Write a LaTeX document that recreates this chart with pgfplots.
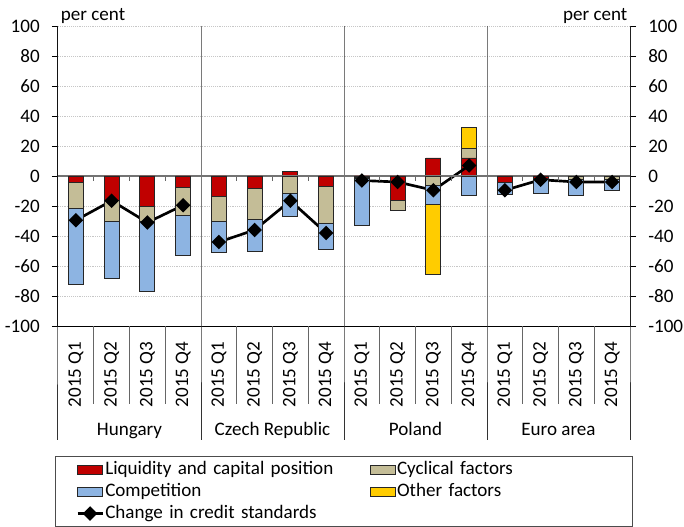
\documentclass[border=0pt]{standalone}
\usepackage{fontspec}
\setmainfont{Carlito}
\usepackage{pgfplots}
\pgfplotsset{compat=1.18}
\definecolor{cred}{HTML}{C00000}
\definecolor{ctan}{HTML}{C4BD97}
\definecolor{cblue}{HTML}{8DB4E2}
\definecolor{cyel}{HTML}{FFCC00}
\pgfplotsset{
 barleg/.style={legend image code/.code={\draw[##1] (0pt,-3.4pt) rectangle (18.75pt,3.4pt);}},
 lineleg/.style={legend image code/.code={\draw[##1,mark=none] (0pt,0pt) -- (18.75pt,0pt); \draw[##1,only marks] plot coordinates {(9.375pt,0pt)};}},
 common/.style={width=429pt,height=225pt,scale only axis,
   xmin=-0.5,xmax=15.5,ymin=-100,ymax=100,
   ybar stacked, bar width=11.25pt,
   ytick={-100,-80,-60,-40,-20,0,20,40,60,80,100},
   tick align=outside, major tick length=4.5pt,
   /pgf/number format/assume math mode=true,
   tick style={black, line width=0.6pt},
   axis line style={black, line width=0.75pt},
   clip=false},
 bars/.style={draw=black!85, line width=0.6pt, barleg},
}
\begin{document}
\begin{tikzpicture}[font=\fontsize{14.3pt}{17pt}\selectfont]
\useasboundingbox (-43.5pt,-150.75pt) rectangle (469.5pt,244.5pt);
% positive parts, grid, right axis
\begin{axis}[common, axis y line*=right, axis x line=none, xtick=\empty,
  ymajorgrids, major grid style={black!22, densely dotted, line width=0.7pt},
  yticklabel style={anchor=west, inner sep=0pt}, yticklabel shift=9pt]
\addplot[bars, fill=cred] coordinates {(6,3) (10,12) (11,12)};
\addplot[bars, fill=ctan] coordinates {(6,0) (10,0) (11,6.5)};
\addplot[bars, fill=cyel] coordinates {(6,0) (10,0) (11,14)};
\end{axis}
% negative parts, line, left axis, categories
\begin{axis}[common, axis y line*=left, axis x line*=bottom,
  xtick={0,...,15},
  xticklabels={2015 Q1,2015 Q2,2015 Q3,2015 Q4,2015 Q1,2015 Q2,2015 Q3,2015 Q4,2015 Q1,2015 Q2,2015 Q3,2015 Q4,2015 Q1,2015 Q2,2015 Q3,2015 Q4},
  x tick style={draw=none},
  xticklabel style={rotate=90, anchor=east, inner sep=0pt}, xticklabel shift=7pt,
  yticklabel style={anchor=east, inner sep=0pt}, yticklabel shift=9pt,
  unbounded coords=jump,
  legend columns=2, legend cell align=left,
  legend style={at={(0.5,0)}, anchor=north, yshift=-97.5pt, draw=black!70, line width=0.75pt,
    inner xsep=15.75pt, inner ysep=1.5pt,
    /tikz/every even column/.append style={column sep=24.5pt},
    nodes={text width=173pt, align=left, text height=10.5pt, text depth=3pt, inner xsep=1pt, inner ysep=1.5pt},
    /tikz/column 4/.style={nodes={text width=160pt}}}]
\addplot[bars, fill=cred] coordinates {(0,-4)(1,-16)(2,-20.5)(3,-7.5)(4,-13.5)(5,-8.5)(6,0)(7,-7)(8,-1)(9,-16)(10,0)(11,0)(12,-4.5)(13,-1.5)(14,0)(15,0)};
\addlegendentry{Liquidity and capital position}
\addplot[bars, fill=ctan] coordinates {(0,-17.5)(1,-14)(2,-10)(3,-18.5)(4,-16.5)(5,-20.5)(6,-11.5)(7,-24.5)(8,-0.5)(9,-7)(10,-6.5)(11,0)(12,0)(13,-0.5)(14,-2.5)(15,-2.5)};
\addlegendentry{Cyclical factors}
\addplot[bars, fill=cblue] coordinates {(0,-50.5)(1,-38)(2,-46.5)(3,-27)(4,-21)(5,-21)(6,-15.5)(7,-17.5)(8,-31.5)(9,0)(10,-12.5)(11,-13)(12,-7.5)(13,-9.5)(14,-10.5)(15,-7.3)};
\addlegendentry{Competition}
\addplot[bars, fill=cyel] coordinates {(0,0)(1,0)(2,0)(3,0)(4,0)(5,0)(6,0)(7,0)(8,0)(9,0)(10,-46.5)(11,0)(12,0)(13,0)(14,0)(15,0)};
\addlegendentry{Other factors}
\draw[black!55, line width=1.1pt] (axis cs:-0.5,0) -- (axis cs:15.5,0);
\pgfplotsinvokeforeach{0.5,1.5,2.5,4.5,5.5,6.5,8.5,9.5,10.5,12.5,13.5,14.5}{
  \draw[black!60, line width=0.75pt] (axis cs:#1,0) -- ++(0pt,-3.75pt);
  \draw[black!60, line width=0.75pt] (axis cs:#1,-100) -- ++(0pt,-58.5pt);}
\pgfplotsinvokeforeach{-0.5,3.5,7.5,11.5,15.5}{
  \draw[black!80, line width=0.75pt] (axis cs:#1,100) -- (axis cs:#1,-100) -- ++(0pt,-85.5pt);}
\addplot[stack plots=false, sharp plot, black, line width=2pt, mark=square*, mark size=2.9pt,
  mark options={rotate=45, solid, fill=black}, lineleg]
 coordinates {(0,-29.5)(1,-16.5)(2,-31)(3,-19.5)(3.5,nan)(4,-44)(5,-36)(6,-16.5)(7,-38)(7.5,nan)(8,-3)(9,-4)(10,-9.5)(11,7)(11.5,nan)(12,-9.5)(13,-2.5)(14,-4)(15,-4)};
\addlegendentry{Change in credit standards}
\node[anchor=base, yshift=-81.75pt] at (axis cs:1.5,-100) {Hungary};
\node[anchor=base, yshift=-81.75pt] at (axis cs:5.5,-100) {Czech Republic};
\node[anchor=base, yshift=-81.75pt] at (axis cs:9.5,-100) {Poland};
\node[anchor=base, yshift=-81.75pt] at (axis cs:13.5,-100) {Euro area};
\node[anchor=base west, inner sep=0pt, xshift=2pt, yshift=3.75pt] at (rel axis cs:0,1) {per cent};
\node[anchor=base east, inner sep=0pt, xshift=-1.8pt, yshift=3.75pt] at (rel axis cs:1,1) {per cent};
\end{axis}
\end{tikzpicture}
\end{document}
